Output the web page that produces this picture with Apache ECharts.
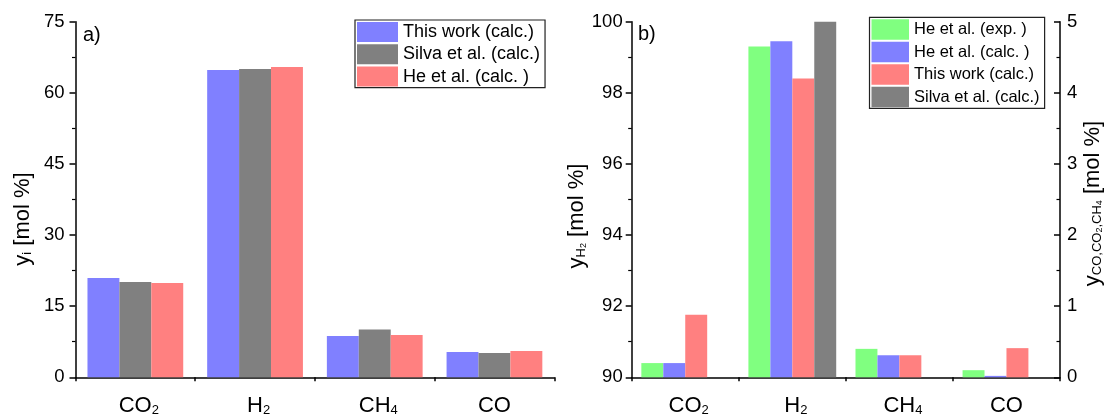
<!DOCTYPE html>
<html>
<head>
<meta charset="utf-8">
<script src="https://cdn.jsdelivr.net/npm/echarts@6/dist/echarts.min.js"></script>
<style>
  html, body { margin: 0; padding: 0; background: #fff; }
  #chart { width: 1107px; height: 418px; }
</style>
</head>
<body>
<div id="chart"></div>
<script>
// Gas species on the category axis
const categories = ['CO2', 'H2', 'CH4', 'CO'];

// a) product composition from the three calculations [mol %]
const thisWorkA = [20.95, 64.8, 8.7, 5.35];
const silvaA = [20.1, 65.0, 10.1, 5.1];
const heCalcA = [19.9, 65.45, 8.9, 5.55];

// b) purified stream: H2 read on the left axis, CO2 / CH4 / CO on the right axis [mol %]
const heExpB = [0.2, 99.3, 0.4, 0.1];
const heCalcB = [0.2, 99.45, 0.31, 0.02];
const thisWorkB = [0.88, 98.4, 0.31, 0.41];
const silvaB = [null, 100, null, null];

// Axis ranges: [min, max, interval]
const yTicksA = [0, 75, 15];
const yTicksBH2 = [90, 100, 2];
const yTicksBOther = [0, 5, 1];

const FONT = "'Liberation Sans', Arial, Helvetica, sans-serif";
const BLUE = '#8080FF', GRAY = '#808080', RED = '#FF8080', GREEN = '#80FF80';
const h2Index = categories.indexOf('H2');

// Category label with the digits set as subscripts; the spacer keeps the
// main symbol centred on its category.
function chemLabel(name) {
  const m = name.match(/^([A-Za-z]+)(\d*)$/);
  if (!m) return name;
  return m[2] ? '{sp| }{m|' + m[1] + '}{s|' + m[2] + '}' : '{m|' + m[1] + '}';
}

const catRich = {
  m: { fontSize: 22, lineHeight: 26, verticalAlign: 'bottom', color: '#000', fontFamily: FONT },
  s: { fontSize: 13, lineHeight: 7, verticalAlign: 'bottom', color: '#000', fontFamily: FONT },
  sp: { width: 7, fontSize: 13, lineHeight: 7, verticalAlign: 'bottom', color: 'rgba(0,0,0,0)' }
};

const titleRich = {
  m: { fontSize: 22, lineHeight: 26, verticalAlign: 'bottom', color: '#000', fontFamily: FONT },
  s: { fontSize: 13, lineHeight: 8, verticalAlign: 'bottom', color: '#000', fontFamily: FONT },
  ss: { fontSize: 9, lineHeight: 1, verticalAlign: 'bottom', color: '#000', fontFamily: FONT }
};

const lineStyle = { color: '#000', width: 1.5 };
const tickFont = { fontSize: 18.5, color: '#000', fontFamily: FONT };

function valueAxis(gridIndex, ticks, extra) {
  return Object.assign({
    type: 'value',
    gridIndex: gridIndex,
    min: ticks[0],
    max: ticks[1],
    interval: ticks[2],
    axisLine: { show: true, onZero: false, lineStyle: lineStyle },
    axisTick: { show: true, length: 6, lineStyle: lineStyle },
    minorTick: { show: true, splitNumber: 2, length: 3.5, lineStyle: { color: '#000', width: 1.2 } },
    splitLine: { show: false },
    minorSplitLine: { show: false },
    axisLabel: Object.assign({ margin: 11 }, tickFont),
    nameLocation: 'middle',
    nameRotate: 90
  }, extra);
}

function categoryAxis(gridIndex) {
  return {
    type: 'category',
    gridIndex: gridIndex,
    data: categories,
    boundaryGap: true,
    axisLine: { show: true, onZero: false, lineStyle: lineStyle },
    axisTick: { show: true, length: 4, interval: 0, lineStyle: lineStyle },
    axisLabel: { interval: 0, margin: 14, formatter: chemLabel, rich: catRich },
    splitLine: { show: false }
  };
}

function legend(items, box) {
  return Object.assign({
    orient: 'vertical',
    icon: 'rect',
    selectedMode: false,
    borderColor: '#222',
    borderWidth: 1.2,
    borderRadius: 0,
    padding: [2, 5, 1, 2],
    textStyle: { color: '#000', fontFamily: FONT },
    data: items.map(function (it) { return { name: it[0], itemStyle: { color: it[1] } }; })
  }, box);
}

const onlyH2 = arr => arr.map((v, i) => (i === h2Index ? v : null));
const withoutH2 = arr => arr.map((v, i) => (i === h2Index ? null : v));

const seriesA = [
  ['This work (calc.)', thisWorkA, BLUE],
  ['Silva et al. (calc.)', silvaA, GRAY],
  ['He et al. (calc. )', heCalcA, RED]
].map(function (s) {
  return {
    type: 'bar', name: s[0], data: s[1], xAxisIndex: 0, yAxisIndex: 0,
    barGap: '0%', barCategoryGap: '20%',
    itemStyle: { color: s[2] }
  };
});

// Each panel b) entry is one slot: H2 on the left axis, the rest on the right axis
const seriesB = [];
[
  ['He et al. (exp. )', heExpB, GREEN],
  ['He et al. (calc. )', heCalcB, BLUE],
  ['This work (calc.)', thisWorkB, RED],
  ['Silva et al. (calc.)', silvaB, GRAY]
].forEach(function (s, k) {
  const common = {
    type: 'bar', name: s[0], xAxisIndex: 1, stack: 'slot' + k,
    barGap: '0%', barCategoryGap: '18%', clip: true,
    itemStyle: { color: s[2] }
  };
  seriesB.push(Object.assign({}, common, { yAxisIndex: 1, data: onlyH2(s[1]) }));
  seriesB.push(Object.assign({}, common, { yAxisIndex: 2, data: withoutH2(s[1]) }));
});

const option = {
  backgroundColor: '#fff',
  animation: false,
  textStyle: { fontFamily: FONT },
  grid: [
    { left: 75.5, top: 21.7, width: 478.8, bottom: 40.7 },
    { left: 631.7, top: 21.7, right: 47, bottom: 40.7 }
  ],
  xAxis: [categoryAxis(0), categoryAxis(1)],
  yAxis: [
    valueAxis(0, yTicksA, {
      name: '{m|y}{s|i}{m| [mol %]}',
      nameGap: 42,
      nameTextStyle: { rich: titleRich, padding: [0, 39, 0, 0] }
    }),
    valueAxis(1, yTicksBH2, {
      name: '{m|y}{s|H}{ss|2}{m| [mol %]}',
      nameGap: 25,
      axisLabel: Object.assign({ margin: 9 }, tickFont),
      nameTextStyle: { rich: titleRich, padding: [0, 33, 0, 0] }
    }),
    valueAxis(1, yTicksBOther, {
      position: 'right',
      axisTick: { show: true, inside: true, length: 6, lineStyle: lineStyle },
      minorTick: { show: true, splitNumber: 2, length: 3.5, lineStyle: { color: '#000', width: 1.2 } },
      axisLabel: Object.assign({ margin: 7 }, tickFont),
      name: '{m|y}{s|CO,CO}{ss|2}{s|,CH}{ss|4}{m| [mol %]}',
      nameGap: 18,
      nameTextStyle: { rich: titleRich, padding: [0, 8, 0, 0] }
    })
  ],
  legend: [
    legend([
      ['This work (calc.)', BLUE],
      ['Silva et al. (calc.)', GRAY],
      ['He et al. (calc. )', RED]
    ], { left: 355, top: 20, itemWidth: 41, itemHeight: 20, itemGap: 2.3,
         textStyle: { color: '#000', fontFamily: FONT, fontSize: 18 } }),
    legend([
      ['He et al. (exp. )', GREEN],
      ['He et al. (calc. )', BLUE],
      ['This work (calc.)', RED],
      ['Silva et al. (calc.)', GRAY]
    ], { left: 869.5, top: 17.3, itemWidth: 37.5, itemHeight: 20.5, itemGap: 2,
         textStyle: { color: '#000', fontFamily: FONT, fontSize: 16.5 } })
  ],
  graphic: [
    { type: 'text', left: 83, top: 25, style: { text: 'a)', fontSize: 20, fontFamily: FONT, fill: '#000' } },
    { type: 'text', left: 638, top: 24, style: { text: 'b)', fontSize: 20, fontFamily: FONT, fill: '#000' } }
  ],
  series: seriesA.concat(seriesB)
};

const chart = echarts.init(document.getElementById('chart'), null, { renderer: 'canvas' });
chart.setOption(option);
</script>
</body>
</html>
